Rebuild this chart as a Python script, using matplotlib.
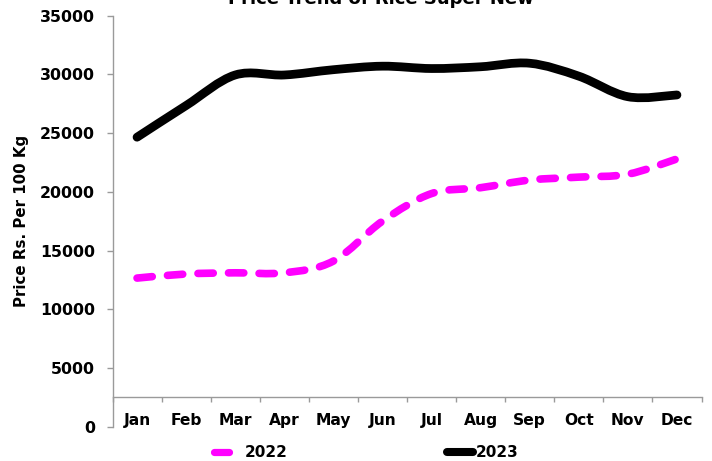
import matplotlib
matplotlib.use("Agg")
import matplotlib.pyplot as plt
from matplotlib.path import Path
from matplotlib.patches import PathPatch
from matplotlib.lines import Line2D
import numpy as np

months = ["Jan", "Feb", "Mar", "Apr", "May", "Jun", "Jul", "Aug", "Sep", "Oct", "Nov", "Dec"]
price_2022 = [12650, 13000, 13100, 13100, 14100, 17500, 19850, 20350, 21000, 21250, 21500, 22800]
price_2023 = [24650, 27350, 29950, 29950, 30400, 30700, 30500, 30650, 30950, 29850, 28100, 28250]
series_names = ["2022", "2023"]
y_ticks = [0, 5000, 10000, 15000, 20000, 25000, 30000, 35000]
title = "Price Trend of Rice Super New"
y_label = "Price Rs. Per 100 Kg"

W, H, DPI = 712, 461, 100
fig = plt.figure(figsize=(W / DPI, H / DPI), dpi=DPI)
plt.rcParams["font.family"] = ["DejaVu Sans"]

left_px, right_px = 112.5, 701.5
top_px, bot_px = 15.7, 426.6
ax = fig.add_axes([left_px / W, 1 - bot_px / H, (right_px - left_px) / W, (bot_px - top_px) / H])
ax.set_xlim(-0.5, len(months) - 0.5)
ax.set_ylim(0, 35000)


def smooth_path(xs, ys):
    pts = np.column_stack([xs, ys]).astype(float)
    n = len(pts)
    verts = [pts[0]]
    codes = [Path.MOVETO]
    for i in range(n - 1):
        p0 = pts[i - 1] if i > 0 else pts[i]
        p1 = pts[i]
        p2 = pts[i + 1]
        p3 = pts[i + 2] if i + 2 < n else pts[i + 1]
        c1 = p1 + (p2 - p0) / 6.0
        c2 = p2 - (p3 - p1) / 6.0
        verts += [c1, c2, p2]
        codes += [Path.CURVE4] * 3
    return Path(verts, codes)


x = np.arange(len(months))
p22 = PathPatch(smooth_path(x, price_2022), fill=False, edgecolor="#FF00FF",
                linewidth=5.5, linestyle=(0, (2.0, 2.0)), capstyle="round",
                joinstyle="round", zorder=3)
p23 = PathPatch(smooth_path(x, price_2023), fill=False, edgecolor="black",
                linewidth=6.3, capstyle="round", joinstyle="round", zorder=3)
ax.add_patch(p22)
ax.add_patch(p23)

# spines
for s in ["top", "right"]:
    ax.spines[s].set_visible(False)
ax.spines["left"].set_color("#9a9a9a")
ax.spines["left"].set_linewidth(1.0)
ax.spines["bottom"].set_position(("data", 2500))
ax.spines["bottom"].set_color("#9a9a9a")
ax.spines["bottom"].set_linewidth(1.0)

ax.set_yticks(y_ticks)
ax.set_yticklabels([str(v) for v in y_ticks])
ax.tick_params(axis="y", direction="out", length=4, width=1, color="#9a9a9a",
               pad=8.5, labelsize=11.3)
for lab in ax.get_yticklabels():
    lab.set_fontweight("bold")

ax.set_xticks(x)
ax.set_xticklabels(months)
ax.set_xticks(np.arange(-0.5, len(months), 1.0), minor=True)
ax.tick_params(axis="x", which="major", length=0, pad=11, labelsize=11.2)
ax.tick_params(axis="x", which="minor", direction="out", length=3.5, width=1, color="#9a9a9a")
for lab in ax.get_xticklabels():
    lab.set_fontweight("bold")

ax.set_ylabel(y_label, fontsize=10.8, fontweight="bold")
ax.yaxis.set_label_coords(-(left_px - 21) / (right_px - left_px), 0.5)
ax.yaxis.label.set_va("center")

fig.text(381 / W, 1 - 4.5 / H, title, ha="center", va="baseline",
         fontsize=13, fontweight="bold")

# legend
fig.add_artist(Line2D([214.5 / W, 229 / W], [1 - 452 / H, 1 - 452 / H], color="#FF00FF",
                      linewidth=5.2, solid_capstyle="round", transform=fig.transFigure))
fig.text(245 / W, 1 - 452 / H, series_names[0], ha="left", va="center",
         fontsize=11, fontweight="bold")
fig.add_artist(Line2D([447 / W, 473 / W], [1 - 452 / H, 1 - 452 / H], color="black",
                      linewidth=5.8, solid_capstyle="round", transform=fig.transFigure))
fig.text(476 / W, 1 - 452 / H, series_names[1], ha="left", va="center",
         fontsize=11, fontweight="bold")

fig.savefig("out.png", dpi=DPI)
